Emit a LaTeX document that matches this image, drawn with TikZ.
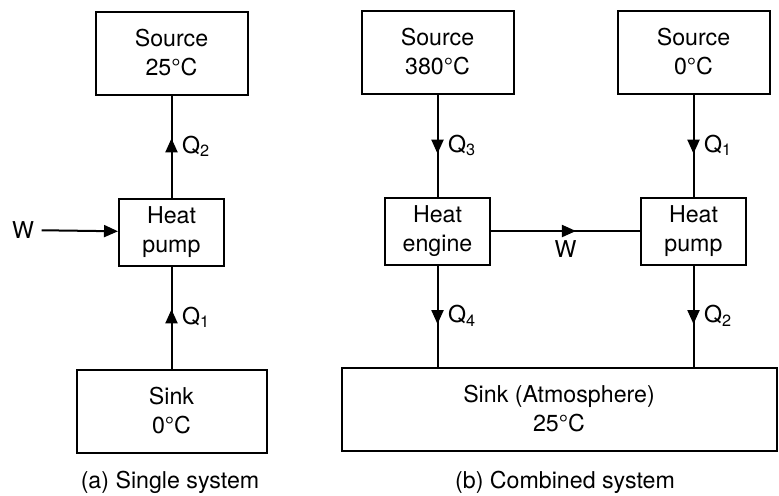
\documentclass[tikz,border=0pt]{standalone}
\usepackage{fontspec}
\setmainfont{TeX Gyre Heros}
\usepackage{tikz}
\usetikzlibrary{arrows.meta,positioning,decorations.markings}
\newcommand{\diagfont}{\fontsize{11.6pt}{14.5pt}\selectfont}

\begin{document}
\begin{tikzpicture}[
  x=0.5pt, y=-0.5pt,
  font=\diagfont,
  node distance=51pt,
  line width=1pt,
  box/.style={draw, align=center, inner sep=2pt},
  reservoir/.style={box, minimum width=76pt, minimum height=41.5pt},
  device/.style={box, minimum width=52.5pt, minimum height=33.5pt},
  tip/.style={-{Triangle[length=7pt, width=6pt]}},
  flow/.style={postaction={decorate}, decoration={markings,
    mark=at position #1 with {\arrow{Triangle[length=7pt, width=6pt]}}}},
  flow/.default=0.58
]
\useasboundingbox (0,0) rectangle (779,495);

\node[reservoir] (srcA) at (171.5,53) {Source\\25°C};
\node[device, below=of srcA] (pumpA) {Heat\\pump};
\node[reservoir, minimum width=95pt, below=of pumpA] (sinkA) {Sink\\0°C};
\node (wA) at (23,230) {W};
\node (capA) at (170,482) {(a) Single system};

\draw[tip] (wA) -- (pumpA);
\draw[flow] (pumpA) -- (srcA) node[midway, right=1.5pt] {Q\textsubscript{2}};
\draw[flow] (sinkA) -- (pumpA) node[midway, right=1.5pt] {Q\textsubscript{1}};

\node[reservoir] (srcB) at (437.5,52) {Source\\380°C};
\node[device, below=of srcB] (engine) {Heat\\engine};
\node[reservoir] (srcC) at (693.5,52) {Source\\0°C};
\node[device, below=of srcC] (pumpB) {Heat\\pump};
\node[reservoir, minimum width=217.5pt] (sinkB) at (559,409) {Sink (Atmosphere)\\25°C};
\node (capB) at (565,482) {(b) Combined system};

\draw[flow] (srcB) -- (engine) node[midway, right=1.5pt] {Q\textsubscript{3}};
\draw[flow] (srcC) -- (pumpB) node[midway, right=1.5pt] {Q\textsubscript{1}};
\draw[flow=0.57] (engine) -- (pumpB) node[midway, below=1pt] {W};
\draw[flow] (engine) -- (engine |- sinkB.north) node[midway, right=1.5pt] {Q\textsubscript{4}};
\draw[flow] (pumpB) -- (pumpB |- sinkB.north) node[midway, right=1.5pt] {Q\textsubscript{2}};
\end{tikzpicture}
\end{document}
